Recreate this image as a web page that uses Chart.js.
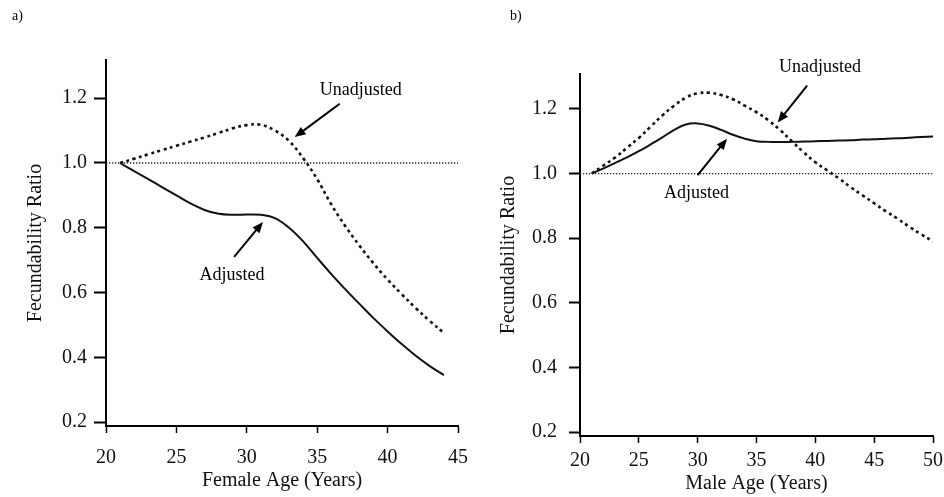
<!DOCTYPE html>
<html>
<head>
<meta charset="utf-8">
<script src="https://cdn.jsdelivr.net/npm/chart.js@4/dist/chart.umd.min.js"></script>
<style>
  body { margin: 0; background: #fff; }
  #wrap { position: relative; width: 944px; height: 497px; }
  canvas { position: absolute; top: 0; }
</style>
</head>
<body>
<div id="wrap">
  <canvas id="female" width="472" height="497" style="left:0"></canvas>
  <canvas id="male" width="472" height="497" style="left:472px"></canvas>
</div>
<script>
// panel a) female age
const femaleAges = [21, 22, 23, 24, 25, 26, 27, 28, 29, 30, 31, 32, 33, 34, 35, 36, 37, 38, 39, 40, 41, 42, 43, 44];
const femaleAdjusted = [1.0, 0.975, 0.95, 0.925, 0.9, 0.875, 0.855, 0.843, 0.84, 0.841, 0.84, 0.83, 0.80, 0.758, 0.707, 0.657, 0.61, 0.565, 0.521, 0.48, 0.441, 0.405, 0.373, 0.345];
const femaleUnadjusted = [1.0, 1.013, 1.027, 1.04, 1.053, 1.066, 1.079, 1.093, 1.107, 1.117, 1.118, 1.10, 1.068, 1.015, 0.95, 0.872, 0.805, 0.745, 0.69, 0.64, 0.595, 0.552, 0.512, 0.475];
const femaleXTicks = [20, 25, 30, 35, 40, 45];

// panel b) male age
const maleAges = [21, 22, 23, 24, 25, 26, 27, 28, 29, 30, 31, 32, 33, 34, 35, 36, 37, 38, 39, 40, 41, 42, 43, 44, 45, 46, 47, 48, 49, 50];
const maleAdjusted = [1.0, 1.016, 1.033, 1.05, 1.069, 1.09, 1.112, 1.135, 1.152, 1.155, 1.148, 1.135, 1.12, 1.108, 1.1, 1.098, 1.098, 1.098, 1.099, 1.1, 1.101, 1.102, 1.103, 1.105, 1.106, 1.108, 1.109, 1.111, 1.113, 1.115];
const maleUnadjusted = [1.0, 1.025, 1.05, 1.08, 1.11, 1.145, 1.18, 1.21, 1.235, 1.248, 1.25, 1.243, 1.23, 1.21, 1.19, 1.165, 1.135, 1.10, 1.066, 1.035, 1.01, 0.985, 0.958, 0.933, 0.908, 0.883, 0.86, 0.835, 0.812, 0.79];
const maleXTicks = [20, 25, 30, 35, 40, 45, 50];

const yTicks = [0.2, 0.4, 0.6, 0.8, 1.0, 1.2];
const baseline = 1.0;

const serif = 'Liberation Serif, Times New Roman, serif';

function arrow(ctx, x1, y1, x2, y2) {
  const a = Math.atan2(y2 - y1, x2 - x1);
  const hl = 11, hw = 4.5;
  ctx.beginPath();
  ctx.moveTo(x1, y1);
  ctx.lineTo(x2 - Math.cos(a) * hl * 0.8, y2 - Math.sin(a) * hl * 0.8);
  ctx.lineWidth = 2;
  ctx.strokeStyle = '#000';
  ctx.stroke();
  ctx.beginPath();
  ctx.moveTo(x2, y2);
  ctx.lineTo(x2 - Math.cos(a) * hl - Math.sin(a) * hw, y2 - Math.sin(a) * hl + Math.cos(a) * hw);
  ctx.lineTo(x2 - Math.cos(a) * hl + Math.sin(a) * hw, y2 - Math.sin(a) * hl - Math.cos(a) * hw);
  ctx.closePath();
  ctx.fillStyle = '#000';
  ctx.fill();
}

// labels and arrows placed in data units
function notes(panel, items) {
  return {
    id: 'notes',
    afterDraw(chart) {
      const { ctx, scales: { x, y } } = chart;
      ctx.save();
      ctx.fillStyle = '#000';
      ctx.font = '14px ' + serif;
      ctx.textAlign = 'left';
      ctx.textBaseline = 'alphabetic';
      ctx.fillText(panel.text, panel.x, 20);
      ctx.font = '18px ' + serif;
      ctx.textAlign = 'center';
      ctx.textBaseline = 'middle';
      items.forEach(it => {
        ctx.fillText(it.label, x.getPixelForValue(it.at[0]), y.getPixelForValue(it.at[1]));
        arrow(ctx,
          x.getPixelForValue(it.from[0]), y.getPixelForValue(it.from[1]),
          x.getPixelForValue(it.to[0]), y.getPixelForValue(it.to[1]));
      });
      ctx.restore();
    }
  };
}

function makeChart(id, cfg) {
  const pts = (xs, ys) => xs.map((v, i) => ({ x: v, y: ys[i] }));
  return new Chart(document.getElementById(id), {
    type: 'line',
    data: {
      datasets: [
        {
          data: [{ x: cfg.xMin, y: baseline }, { x: cfg.xMax, y: baseline }],
          borderColor: '#222',
          borderWidth: 1.3,
          borderDash: [1.3, 1.7],
          pointRadius: 0
        },
        {
          data: pts(cfg.ages, cfg.unadjusted),
          borderColor: '#111',
          borderWidth: 2.6,
          borderDash: [3, 3.5],
          pointRadius: 0,
          tension: 0.4
        },
        {
          data: pts(cfg.ages, cfg.adjusted),
          borderColor: '#111',
          borderWidth: 2,
          pointRadius: 0,
          tension: 0.4
        }
      ]
    },
    options: {
      responsive: false,
      animation: false,
      layout: { padding: { top: cfg.top, right: cfg.right, left: 0, bottom: 0 } },
      plugins: { legend: { display: false }, tooltip: { enabled: false } },
      scales: {
        x: {
          type: 'linear',
          min: cfg.xMin,
          max: cfg.xMax,
          afterBuildTicks: s => { s.ticks = cfg.xTicks.map(v => ({ value: v })); },
          afterFit: s => { s.height = cfg.bottom; s.paddingLeft = 0; s.paddingRight = 0; },
          border: { color: '#000', width: 2 },
          grid: { drawOnChartArea: false, tickLength: 7, tickColor: '#000', tickWidth: 1.5 },
          ticks: { color: '#111', padding: cfg.xPad, font: { family: serif, size: 20 } },
          title: {
            display: true,
            text: cfg.xTitle,
            color: '#111',
            font: { family: serif, size: 20 },
            padding: { top: 0, bottom: cfg.xTitlePad }
          }
        },
        y: {
          min: cfg.yMin,
          max: cfg.yMax,
          afterBuildTicks: s => { s.ticks = yTicks.map(v => ({ value: v })); },
          afterFit: s => { s.width = cfg.left; s.paddingTop = 0; s.paddingBottom = 0; },
          border: { color: '#000', width: 2 },
          grid: { drawOnChartArea: false, tickLength: cfg.yTickLen, tickColor: '#000', tickWidth: 2 },
          ticks: {
            color: '#111',
            padding: cfg.yPad,
            font: { family: serif, size: 20 },
            callback: v => v.toFixed(1)
          },
          title: {
            display: true,
            text: 'Fecundability Ratio',
            color: '#111',
            font: { family: serif, size: 20 },
            padding: { top: cfg.yTitlePad, bottom: 0 }
          }
        }
      }
    },
    plugins: [notes(cfg.panel, cfg.notes)]
  });
}

makeChart('female', {
  ages: femaleAges, adjusted: femaleAdjusted, unadjusted: femaleUnadjusted,
  xMin: 20, xMax: 45, xTicks: femaleXTicks, xTitle: 'Female Age (Years)',
  yMin: 0.188, yMax: 1.318,
  top: 60, right: 14, left: 106, bottom: 71,
  xPad: 13, xTitlePad: 4, yPad: 7, yTickLen: 12, yTitlePad: 24,
  panel: { text: 'a)', x: 12 },
  notes: [
    { label: 'Unadjusted', at: [38.1, 1.226], from: [36.6, 1.183], to: [33.4, 1.08] },
    { label: 'Adjusted', at: [28.95, 0.653], from: [29.1, 0.71], to: [31.15, 0.818] }
  ]
});

makeChart('male', {
  ages: maleAges, adjusted: maleAdjusted, unadjusted: maleUnadjusted,
  xMin: 20, xMax: 50, xTicks: maleXTicks, xTitle: 'Male Age (Years)',
  yMin: 0.188, yMax: 1.308,
  top: 74, right: 11, left: 108, bottom: 61,
  xPad: 6, xTitlePad: 1, yPad: 12, yTickLen: 11, yTitlePad: 25,
  panel: { text: 'b)', x: 38 },
  notes: [
    { label: 'Unadjusted', at: [40.4, 1.328], from: [39.3, 1.272], to: [36.8, 1.158] },
    { label: 'Adjusted', at: [29.9, 0.938], from: [30.0, 0.995], to: [32.5, 1.108] }
  ]
});
</script>
</body>
</html>
